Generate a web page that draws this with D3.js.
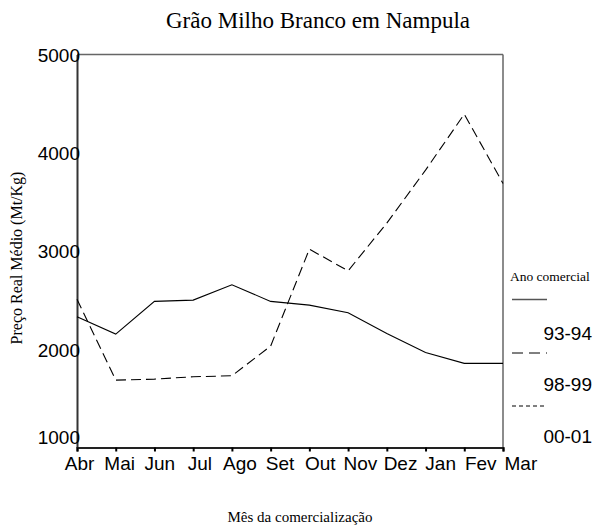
<!DOCTYPE html>
<html>
<head>
<meta charset="utf-8">
<script src="https://cdn.jsdelivr.net/npm/d3@7"></script>
<style>
  html, body { margin: 0; padding: 0; background: #fff; }
  svg { display: block; }
</style>
</head>
<body>
<svg id="chart" width="595" height="530"></svg>
<script>
// ---- data ----
const months = ["Abr", "Mai", "Jun", "Jul", "Ago", "Set", "Out", "Nov", "Dez", "Jan", "Fev", "Mar"];
const series9394 = [2330, 2154, 2487, 2500, 2656, 2487, 2449, 2371, 2161, 1966, 1856, 1856];
const series9899 = [2510, 1686, 1696, 1720, 1730, 2032, 3019, 2798, 3284, 3823, 4393, 3688];
const series0001 = [];
const seriesNames = ["93-94", "98-99", "00-01"];
const yTicks = [1000, 2000, 3000, 4000, 5000];
const titleText = "Grão Milho Branco em Nampula";
const xTitle = "Mês da comercialização";
const yTitle = "Preço Real Médio (Mt/Kg)";
const legendTitle = "Ano comercial";

// ---- layout ----
const svg = d3.select("#chart");
const L = 77, R = 503, T = 54.5, B = 447.5;
const x = d3.scalePoint().domain(months).range([L, R]);
const y = d3.scaleLinear().domain([1000, 5000]).range([B, T]);
const serif = "'Liberation Serif', 'Times New Roman', serif";
const sans = "'Liberation Sans', Arial, sans-serif";

// title
svg.append("text").attr("x", 318).attr("y", 28)
  .attr("text-anchor", "middle").attr("font-family", serif).attr("font-size", 23)
  .text(titleText);

// frame (top/right, gray)
svg.append("line").attr("x1", L).attr("x2", R).attr("y1", T).attr("y2", T)
  .attr("stroke", "#666").attr("stroke-width", 1.5);
svg.append("line").attr("x1", R).attr("x2", R).attr("y1", T).attr("y2", B)
  .attr("stroke", "#666").attr("stroke-width", 1.5);

// y axis
const yAxis = svg.append("g").attr("transform", `translate(${L},0)`)
  .call(d3.axisLeft(y).tickValues(yTicks).tickSize(0).tickPadding(-3).tickFormat(d3.format("d")));
yAxis.select(".domain").attr("stroke", "#333").attr("stroke-width", 2);
yAxis.selectAll("text").attr("font-family", sans).attr("font-size", 19).attr("fill", "#000")
  .attr("dy", d => d === 1000 ? "-0.2em" : "0.36em");

// x axis
const xAxis = svg.append("g").attr("transform", `translate(0,${B})`)
  .call(d3.axisBottom(x).tickSize(4).tickPadding(5));
xAxis.select(".domain").attr("stroke", "#222").attr("stroke-width", 2);
xAxis.selectAll(".tick line").attr("stroke", "#000").attr("stroke-width", 2);
xAxis.selectAll("text").attr("font-family", sans).attr("font-size", 19).attr("fill", "#000")
  .attr("x", d => 2 + months.indexOf(d) * 1.4);

// axis titles
svg.append("text").attr("x", 300).attr("y", 522)
  .attr("text-anchor", "middle").attr("font-family", serif).attr("font-size", 15)
  .text(xTitle);
svg.append("text").attr("transform", "translate(22,258) rotate(-90)")
  .attr("text-anchor", "middle").attr("font-family", serif).attr("font-size", 16)
  .text(yTitle);

// lines
const line = d3.line().x((d, i) => x(months[i])).y(d => y(d));
const styles = [null, "10,5", "4,4"];
[series9394, series9899, series0001].forEach((s, k) => {
  if (!s.length) return;
  const p = svg.append("path").datum(s).attr("d", line)
    .attr("fill", "none").attr("stroke", "#000").attr("stroke-width", 1.1);
  if (styles[k]) p.attr("stroke-dasharray", styles[k]);
});

// legend
svg.append("text").attr("x", 510).attr("y", 281)
  .attr("font-family", serif).attr("font-size", 13.5).text(legendTitle);
const legY = [299.5, 353, 406];
const labY = [340, 391, 443];
seriesNames.forEach((n, k) => {
  const ln = svg.append("line").attr("x1", 512).attr("x2", 547).attr("y1", legY[k]).attr("y2", legY[k])
    .attr("stroke", k === 0 ? "#555" : "#000").attr("stroke-width", k === 0 ? 1.5 : 1);
  if (styles[k]) ln.attr("stroke-dasharray", k === 1 ? "11,6" : "4,3");
  svg.append("text").attr("x", 592).attr("y", labY[k]).attr("text-anchor", "end")
    .attr("font-family", sans).attr("font-size", 19).text(n);
});
</script>
</body>
</html>
